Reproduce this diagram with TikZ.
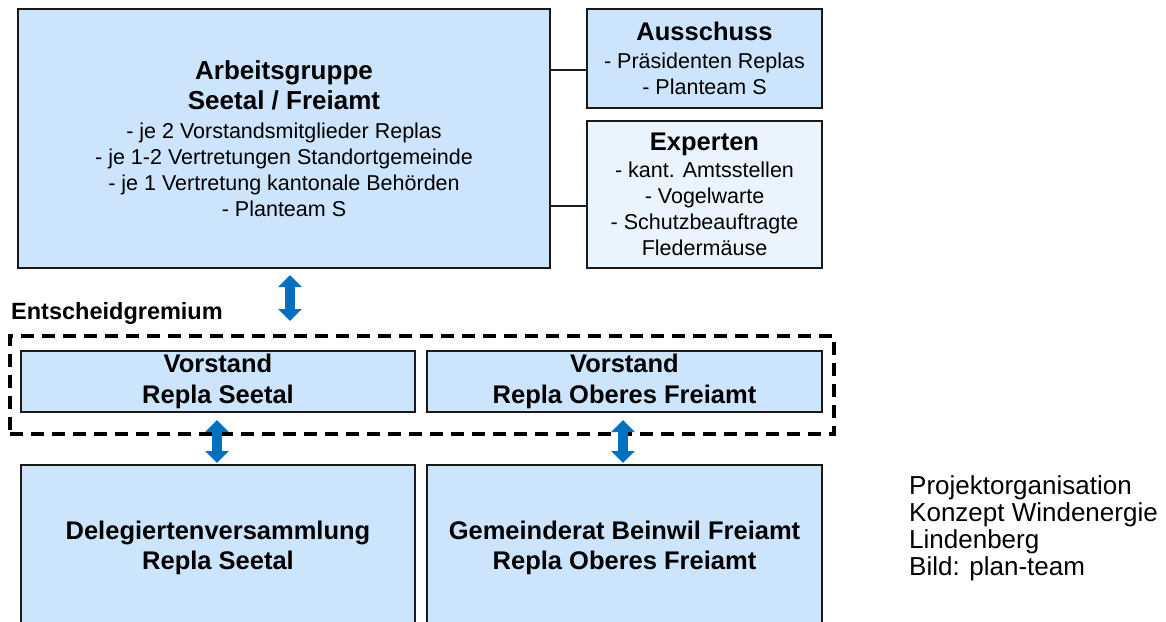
\documentclass[tikz,border=0pt]{standalone}
\usepackage{fontspec}
\setmainfont{Liberation Sans}
\usetikzlibrary{arrows.meta}
\definecolor{boxblue}{RGB}{204,228,252}
\definecolor{paleblue}{RGB}{234,244,254}
\definecolor{arrowblue}{RGB}{0,112,192}
\definecolor{edgegray}{RGB}{26,26,26}
\begin{document}
\begin{tikzpicture}[x=1pt,y=-1pt,
  box/.style={draw=edgegray, line width=2pt, fill=boxblue, anchor=north west, inner sep=0pt, align=center, font=\fontsize{21.5}{26}\selectfont},
  titlefont/.style={font=\bfseries\fontsize{25.5}{30.5}\selectfont},
  link/.style={draw=edgegray, line width=2.5pt},
  dbl/.style={draw=arrowblue, line width=10pt, {Triangle[length=12pt,width=23pt]}-{Triangle[length=12pt,width=23pt]}},
  group/.style={draw=black, line width=3.5pt, dash pattern=on 13pt off 8pt, anchor=north west, inner sep=0pt},
]
\useasboundingbox (0,0) rectangle (1166,621);
\begin{scope}
\clip (0,0) rectangle (1166,621);
% top boxes
\node[box, minimum width=532pt, minimum height=259pt] (ag) at (17,8)
  {{\bfseries\fontsize{26}{30}\selectfont Arbeitsgruppe}\\[4pt]
   {\bfseries\fontsize{26}{30}\selectfont Seetal / Freiamt}\\[3pt]
   - je 2 Vorstandsmitglieder Replas\\
   - je 1-2 Vertretungen Standortgemeinde\\
   - je 1 Vertretung kantonale Behörden\\
   - Planteam S};
\node[box, minimum width=235pt, minimum height=99pt] (aus) at (586,8)
  {{\bfseries\fontsize{25.5}{30}\selectfont Ausschuss}\\[2pt]
   - Präsidenten Replas\\
   - Planteam S};
\node[box, fill=paleblue, minimum width=235pt, minimum height=147pt] (exp) at (586,120)
  {{\bfseries\fontsize{25.5}{30}\selectfont Experten}\\[1pt]
   - kant. Amtsstellen\\
   - Vogelwarte\\
   - Schutzbeauftragte\\
   Fledermäuse};
% decision group
\node[group, minimum width=824pt, minimum height=98pt] (grp) at (8,334) {};
\node[anchor=west, inner sep=0pt, font=\bfseries\fontsize{23.5}{28}\selectfont] (grplabel) at (11,313) {Entscheidgremium};
\node[box, titlefont, minimum width=394pt, minimum height=61pt] (vl) at (20,350) {Vorstand\\Repla Seetal};
\node[box, titlefont, minimum width=395pt, minimum height=61pt] (vr) at (426,350) {Vorstand\\Repla Oberes Freiamt};
% bottom boxes
\node[box, titlefont, minimum width=394pt, minimum height=166pt] (dl) at (20,464) {Delegiertenversammlung\\Repla Seetal};
\node[box, titlefont, minimum width=395pt, minimum height=166pt] (dr) at (426,464) {Gemeinderat Beinwil Freiamt\\Repla Oberes Freiamt};
% connectors
\coordinate (c1) at (0,70);
\coordinate (c2) at (0,206);
\draw[link] (ag.east |- c1) -- (aus.west |- c1);
\draw[link] (ag.east |- c2) -- (exp.west |- c2);
\coordinate (a1) at (290,0);
\coordinate (a2) at (217,0);
\coordinate (a3) at (623,0);
\draw[dbl] ([yshift=-6pt]ag.south -| a1) -- ([yshift=13pt]grp.north -| a1);
\draw[dbl] ([yshift=-7pt]vl.south -| a2) -- ([yshift=1pt]dl.north -| a2);
\draw[dbl] ([yshift=-7pt]vr.south -| a3) -- ([yshift=1pt]dr.north -| a3);
\end{scope}
% caption
\node[anchor=north west, inner sep=0pt, align=left, font=\fontsize{26}{27}\selectfont] (cap) at (909,475)
  {Projektorganisation\\Konzept Windenergie\\Lindenberg\\Bild: plan-team};
\end{tikzpicture}
\end{document}
